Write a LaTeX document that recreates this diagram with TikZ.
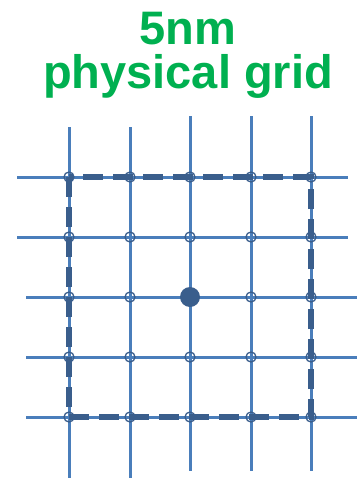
\documentclass[tikz,border=0pt]{standalone}
\usepackage{fontspec}
\setmainfont{Liberation Sans}
\definecolor{gridblue}{HTML}{4A7EBB}
\definecolor{cellblue}{HTML}{3A5E8C}
\definecolor{titlegreen}{HTML}{00B050}
\begin{document}
\begin{tikzpicture}[x=1pt, y=-1pt,
    gridline/.style={gridblue, line width=3pt},
    cellbox/.style={cellblue, line width=6.5pt, dash pattern=on 20pt off 10pt},
    pin/.style={cellblue, line width=1.3pt}]
  \useasboundingbox (0,0) rectangle (360,479);

  % Title
  \node[titlegreen, font=\fontsize{47}{44}\selectfont\bfseries, align=center, anchor=north]
    (title) at (188,9) {5nm\\physical grid};

  % Vertical tracks
  \foreach \x in {69,130} \draw[gridline] (\x,127) -- (\x,478);
  \foreach \x in {190,251,311} \draw[gridline] (\x,116) -- (\x,471);

  % Horizontal tracks
  \foreach \y in {177,237} \draw[gridline] (17,\y) -- (348,\y);
  \foreach \y in {297,357,417} \draw[gridline] (26,\y) -- (357,\y);

  % Cell outline
  \draw[cellbox] (69,177) rectangle (311,417);

  % Grid points
  \foreach \x in {69,130,190,251,311}
    \foreach \y in {177,237,297,357,417}
      \draw[pin] (\x,\y) circle (5);

  % Origin
  \fill[cellblue] (190,297) circle (10);
\end{tikzpicture}
\end{document}
